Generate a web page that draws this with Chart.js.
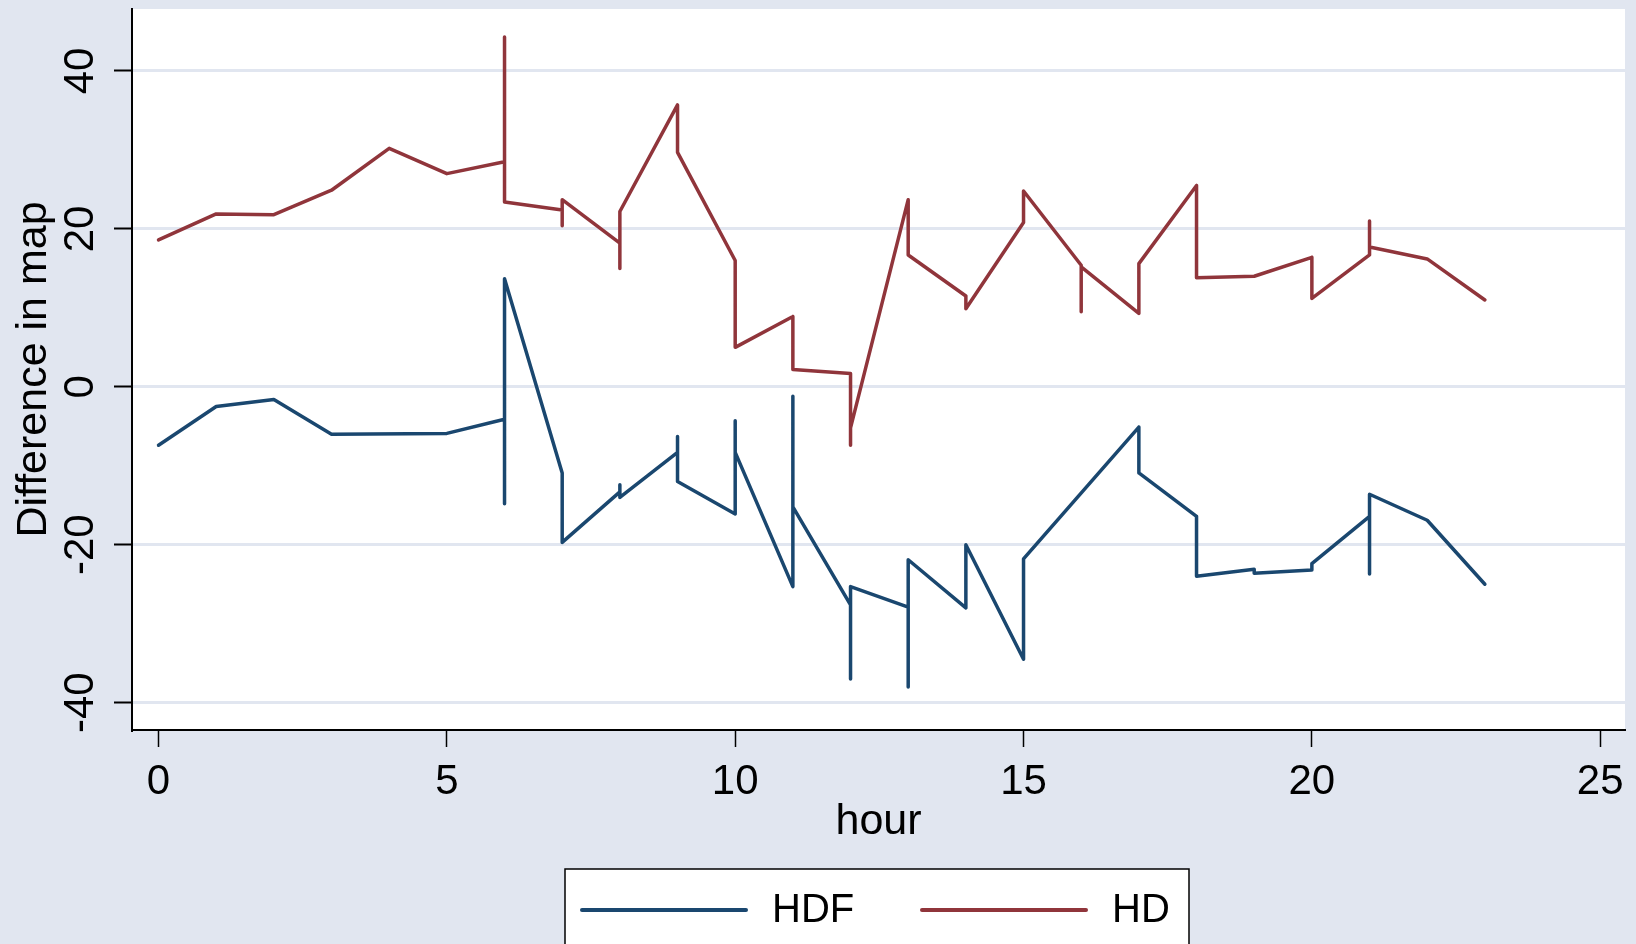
<!DOCTYPE html>
<html lang="en">
<head>
    <meta charset="UTF-8">
    <title>Difference in map by hour</title>
    <script src="https://cdn.jsdelivr.net/npm/chart.js"></script>
    <style>
        body {
            margin: 0;
            background-color: #e1e6f0;
        }
        canvas {
            display: block;
        }
    </style>
</head>
<body>

<canvas id="myChart" width="1636" height="944"></canvas>

<script>
    // HDF series (several observations per hour make the vertical jumps)
    const hdfHour = [0, 1, 2, 3, 5, 6, 6, 6, 7, 7, 8, 8, 8, 9, 9, 9, 10, 10, 10, 11, 11, 11,
        12, 12, 12, 13, 13, 13, 14, 14, 15, 15, 17, 17, 18, 18, 19, 19, 20, 20, 21, 21, 21, 22, 23];
    const hdfValue = [-7.4, -2.5, -1.6, -6.0, -5.9, -4.1, -14.8, 13.7, -10.9, -19.7, -13.3, -12.4, -14.0,
        -8.3, -6.3, -12.0, -16.1, -4.3, -8.3, -25.3, -1.2, -15.2, -27.6, -37.0, -25.3, -27.9, -38.0, -21.9,
        -28.0, -20.0, -34.5, -21.8, -5.1, -10.9, -16.4, -24.0, -23.1, -23.6, -23.2, -22.4, -16.4, -23.7,
        -13.6, -16.9, -25.0];

    // HD series
    const hdHour = [0, 1, 2, 3, 4, 5, 6, 6, 6, 7, 7, 7, 8, 8, 8, 9, 9, 10, 10, 11, 11, 12, 12, 12,
        13, 13, 14, 14, 15, 15, 16, 16, 16, 17, 17, 18, 18, 19, 20, 20, 21, 21, 21, 22, 23];
    const hdValue = [18.6, 21.9, 21.8, 24.9, 30.2, 27.0, 28.5, 44.3, 23.4, 22.4, 20.4, 23.7, 18.2, 15.0,
        22.2, 35.7, 29.7, 16.0, 5.0, 8.9, 2.2, 1.7, -7.4, -5.2, 23.7, 16.7, 11.5, 9.9, 20.8, 24.8, 15.4,
        9.5, 15.2, 9.3, 15.6, 25.5, 13.8, 14.0, 16.4, 11.2, 16.7, 21.0, 17.7, 16.2, 11.0];

    const xTicks = [0, 5, 10, 15, 20, 25];
    const yTicks = [-40, -20, 0, 20, 40];
    const seriesNames = ['HDF', 'HD'];

    const bgColor = '#e1e6f0';
    const fontFamily = '"Liberation Sans", Arial, sans-serif';

    const toPoints = (xs, ys) => xs.map((x, i) => ({ x: x, y: ys[i] }));

    // fundo cinza-azulado e area do grafico branca
    const backgroundPlugin = {
        id: 'stataBackground',
        beforeDraw(chart) {
            const { ctx, chartArea } = chart;
            ctx.save();
            ctx.fillStyle = bgColor;
            ctx.fillRect(0, 0, chart.width, chart.height);
            ctx.fillStyle = '#ffffff';
            ctx.fillRect(chartArea.left, chartArea.top, chartArea.right - chartArea.left, chartArea.bottom - chartArea.top);
            ctx.restore();
        }
    };

    // legenda em caixa, no estilo do Stata
    const legendPlugin = {
        id: 'boxLegend',
        afterDraw(chart) {
            const ctx = chart.ctx;
            const boxX = 565, boxY = 869, boxW = 624, boxH = 90;
            ctx.save();
            ctx.fillStyle = '#ffffff';
            ctx.fillRect(boxX, boxY, boxW, boxH);
            ctx.strokeStyle = '#000000';
            ctx.lineWidth = 1.5;
            ctx.strokeRect(boxX, boxY, boxW, boxH);

            const items = [{ x1: 582, x2: 746, tx: 772 }, { x1: 922, x2: 1086, tx: 1112 }];
            chart.data.datasets.forEach((ds, i) => {
                const it = items[i];
                ctx.strokeStyle = ds.borderColor;
                ctx.lineWidth = 4;
                ctx.lineCap = 'round';
                ctx.beginPath();
                ctx.moveTo(it.x1, 910);
                ctx.lineTo(it.x2, 910);
                ctx.stroke();
                ctx.fillStyle = '#000000';
                ctx.font = '40px ' + fontFamily;
                ctx.textBaseline = 'middle';
                ctx.textAlign = 'left';
                ctx.fillText(ds.label, it.tx, 911);
            });
            ctx.restore();
        }
    };

    // sem margem extra dos rotulos
    const noScalePadding = s => {
        s.paddingTop = 0;
        s.paddingBottom = 0;
        s.paddingLeft = 0;
        s.paddingRight = 0;
    };

    const ctx = document.getElementById('myChart').getContext('2d');

    const myChart = new Chart(ctx, {
        type: 'scatter',
        data: {
            datasets: [
                {
                    label: seriesNames[0],
                    data: toPoints(hdfHour, hdfValue),
                    showLine: true,
                    borderColor: '#1a476f',
                    backgroundColor: '#1a476f',
                    borderWidth: 3.5,
                    pointRadius: 0,
                    borderCapStyle: 'round',
                    borderJoinStyle: 'round'
                },
                {
                    label: seriesNames[1],
                    data: toPoints(hdHour, hdValue),
                    showLine: true,
                    borderColor: '#90353b',
                    backgroundColor: '#90353b',
                    borderWidth: 3.5,
                    pointRadius: 0,
                    borderCapStyle: 'round',
                    borderJoinStyle: 'round'
                }
            ]
        },
        options: {
            responsive: false,
            animation: false,
            layout: {
                padding: { top: 9, right: 11, bottom: 0, left: 0 }
            },
            scales: {
                x: {
                    type: 'linear',
                    min: -0.46,
                    max: 25.43,
                    afterBuildTicks: s => { s.ticks = xTicks.map(v => ({ value: v })); },
                    afterFit: s => { s.height = 214; noScalePadding(s); },
                    border: { display: true, color: '#000000', width: 2 },
                    grid: {
                        drawOnChartArea: false,
                        drawTicks: true,
                        tickLength: 17,
                        tickColor: '#000000',
                        tickWidth: 1.5
                    },
                    ticks: {
                        color: '#000000',
                        padding: 10,
                        maxRotation: 0,
                        font: { family: fontFamily, size: 42 }
                    },
                    title: {
                        display: true,
                        text: 'hour',
                        color: '#000000',
                        padding: { top: 0, bottom: 100 },
                        font: { family: fontFamily, size: 43, lineHeight: 1 }
                    }
                },
                y: {
                    type: 'linear',
                    min: -43.46,
                    max: 47.85,
                    afterBuildTicks: s => { s.ticks = yTicks.map(v => ({ value: v })); },
                    afterFit: s => { s.width = 132; noScalePadding(s); },
                    border: { display: true, color: '#000000', width: 2 },
                    grid: {
                        color: bgColor,
                        lineWidth: 3,
                        drawTicks: true,
                        tickLength: 18,
                        tickColor: '#000000',
                        tickWidth: 2
                    },
                    ticks: {
                        color: '#000000',
                        minRotation: 90,
                        maxRotation: 90,
                        crossAlign: 'center',
                        padding: 2,
                        font: { family: fontFamily, size: 42 }
                    },
                    title: {
                        display: true,
                        text: 'Difference in map',
                        color: '#000000',
                        padding: { top: 13, bottom: 0 },
                        font: { family: fontFamily, size: 43, lineHeight: 1 }
                    }
                }
            },
            plugins: {
                legend: { display: false },
                tooltip: { enabled: false }
            }
        },
        plugins: [backgroundPlugin, legendPlugin]
    });
</script>

</body>
</html>
